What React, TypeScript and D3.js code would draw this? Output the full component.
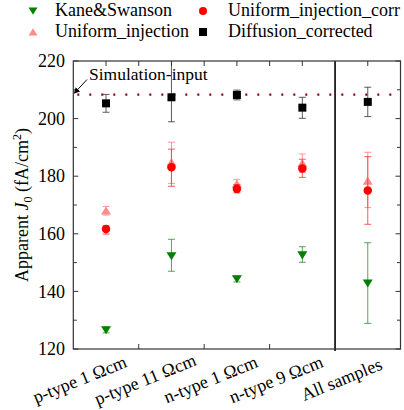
import React from "react";
import * as d3 from "d3";

const categories = ["p-type 1 \u03A9cm", "p-type 11 \u03A9cm", "n-type 1 \u03A9cm", "n-type 9 \u03A9cm", "All samples"];

const kaneValues = [126.6, 152.3, 144.3, 152.6, 142.8];
const kaneLow = [125.6, 147.0, 143.3, 150.1, 128.9];
const kaneHigh = [127.6, 158.1, 145.3, 155.5, 156.9];

const uniformValues = [168.0, 184.8, 177.4, 184.5, 178.4];
const uniformLow = [166.5, 177.5, 175.9, 181.3, 169.1];
const uniformHigh = [169.5, 191.8, 178.9, 187.7, 188.3];

const uniformCorrValues = [161.7, 183.1, 175.6, 182.7, 175.0];
const uniformCorrLow = [159.9, 176.5, 174.2, 179.6, 163.3];
const uniformCorrHigh = [162.8, 189.4, 177.1, 185.9, 186.8];

const diffusionValues = [205.3, 207.4, 208.2, 203.8, 205.8];
const diffusionLow = [202.2, 198.9, 206.5, 200.1, 200.7];
const diffusionHigh = [208.4, 222.0, 209.9, 207.4, 210.9];

const simulationInput = 208.3;
const yTicks = [120, 140, 160, 180, 200, 220];
const yMinorTicks = [130, 150, 170, 190, 210];

const FONT = "Liberation Serif";

type Shape = "down" | "up" | "circle" | "square";

function Marker({ shape, x, y, color, size }: { shape: Shape; x: number; y: number; color: string; size: number }) {
  const h = size / 2;
  if (shape === "circle") return <circle cx={x} cy={y} r={h} fill={color} />;
  if (shape === "square") return <rect x={x - h} y={y - h} width={size} height={size} fill={color} />;
  if (shape === "down")
    return <path d={`M${x - h - 0.5},${y - h * 0.85} L${x + h + 0.5},${y - h * 0.85} L${x},${y + h * 0.95} Z`} fill={color} />;
  return <path d={`M${x - h - 0.5},${y + h * 0.85} L${x + h + 0.5},${y + h * 0.85} L${x},${y - h * 0.95} Z`} fill={color} />;
}

export default function App() {
  const W = 404;
  const H = 410;
  const left = 73.3, right = 400.5, top = 61, bottom = 349;
  const x = d3.scaleLinear().domain([-0.5, 4.5]).range([left, right]);
  const y = d3.scaleLinear().domain([120, 220]).range([bottom, top]);

  const series = [
    { name: "Kane&Swanson", shape: "down" as Shape, color: "#008000", err: "#2e8b2e", vals: kaneValues, lo: kaneLow, hi: kaneHigh, size: 9 },
    { name: "Uniform_injection", shape: "up" as Shape, color: "#ff8c8c", err: "#ff8080", vals: uniformValues, lo: uniformLow, hi: uniformHigh, size: 9 },
    { name: "Uniform_injection_corr", shape: "circle" as Shape, color: "#ff0000", err: "#ff3030", vals: uniformCorrValues, lo: uniformCorrLow, hi: uniformCorrHigh, size: 8.5 },
    { name: "Diffusion_corrected", shape: "square" as Shape, color: "#000000", err: "#333333", vals: diffusionValues, lo: diffusionLow, hi: diffusionHigh, size: 8 },
  ];

  const topTicks = d3.range(0, 9).map((i) => i * 0.5).filter((v) => v !== 3.5);
  const bottomTicks = [0.5, 1.5, 2.5];
  const frame = "#333";
  const ts = { fontFamily: FONT };

  const legend = [
    { s: series[0], lx: 33, ly: 11, tx: 55, ty: 16 },
    { s: series[2], lx: 203, ly: 11, tx: 228, ty: 16 },
    { s: series[1], lx: 33, ly: 32, tx: 55, ty: 37 },
    { s: series[3], lx: 203, ly: 32, tx: 228, ty: 37 },
  ];

  return (
    <svg
      width={W}
      height={H}
      style={{ position: "absolute", left: 0, top: 0, overflow: "hidden", background: "#fff" }}
    >
      <defs>
        <clipPath id="plotclip">
          <rect x={left} y={top} width={right - left} height={bottom - top} />
        </clipPath>
        <marker id="arrowhead" markerWidth="6" markerHeight="6" refX="5" refY="3" orient="auto" markerUnits="userSpaceOnUse">
          <path d="M0,0 L6,3 L0,6 Z" fill="#000" />
        </marker>
      </defs>

      {/* Legend */}
      {legend.map((l, i) => (
        <g key={i}>
          <Marker shape={l.s.shape} x={l.lx} y={l.ly} color={l.s.color} size={8} />
          <text x={l.tx} y={l.ty} fontSize={18} fill="#000" style={ts}>
            {l.s.name}
          </text>
        </g>
      ))}

      {/* simulation input dotted line */}
      <line
        x1={left + 4}
        x2={right}
        y1={y(simulationInput)}
        y2={y(simulationInput)}
        stroke="#8b0000"
        strokeWidth={2.2}
        strokeDasharray="2 10"
      />

      {/* separator */}
      <line x1={x(3.5)} x2={x(3.5)} y1={top} y2={bottom + 2} stroke="#000" strokeWidth={1.6} />

      {/* data */}
      <g clipPath="url(#plotclip)">
        {series.map((s, si) => (
          <g key={si}>
            {s.vals.map((v, i) => {
              const cx = x(i);
              return (
                <g key={i}>
                  <line x1={cx} x2={cx} y1={y(s.lo[i])} y2={y(s.hi[i])} stroke={s.err} strokeWidth={1} strokeOpacity={0.8} />
                  <line x1={cx - 3.5} x2={cx + 3.5} y1={y(s.lo[i])} y2={y(s.lo[i])} stroke={s.err} strokeWidth={1} strokeOpacity={0.8} />
                  <line x1={cx - 3.5} x2={cx + 3.5} y1={y(s.hi[i])} y2={y(s.hi[i])} stroke={s.err} strokeWidth={1} strokeOpacity={0.8} />
                </g>
              );
            })}
            {s.vals.map((v, i) => (
              <Marker key={"m" + i} shape={s.shape} x={x(i)} y={y(v)} color={s.color} size={s.size} />
            ))}
          </g>
        ))}
      </g>

      {/* frame */}
      <rect x={left} y={top} width={right - left} height={bottom - top} fill="none" stroke={frame} strokeWidth={1.2} />

      {/* top ticks */}
      {topTicks.map((t) => (
        <line key={"tt" + t} x1={x(t)} x2={x(t)} y1={top} y2={top + 5} stroke={frame} strokeWidth={1} />
      ))}
      {/* bottom ticks */}
      {bottomTicks.map((t) => (
        <line key={"bt" + t} x1={x(t)} x2={x(t)} y1={bottom} y2={bottom - 5} stroke={frame} strokeWidth={1} />
      ))}

      {/* y ticks left & right */}
      {yTicks.map((t) => (
        <g key={"yt" + t}>
          <line x1={left} x2={left + 5} y1={y(t)} y2={y(t)} stroke={frame} strokeWidth={1} />
          <line x1={right} x2={right - 5} y1={y(t)} y2={y(t)} stroke={frame} strokeWidth={1} />
          <text x={65} y={y(t)} dy="0.34em" textAnchor="end" fontSize={18} fill="#000" style={ts}>
            {t}
          </text>
        </g>
      ))}
      {yMinorTicks.map((t) => (
        <g key={"ym" + t}>
          <line x1={left} x2={left + 3.5} y1={y(t)} y2={y(t)} stroke={frame} strokeWidth={1} />
          <line x1={right} x2={right - 3.5} y1={y(t)} y2={y(t)} stroke={frame} strokeWidth={1} />
        </g>
      ))}

      {/* simulation input label and arrow */}
      <text x={89} y={79.5} fontSize={17.5} fill="#000" style={ts}>
        Simulation-input
      </text>
      <line x1={87} y1={79.5} x2={74.5} y2={93} stroke="#000" strokeWidth={1} markerEnd="url(#arrowhead)" />

      {/* x labels */}
      {categories.map((c, i) => (
        <text
          key={c}
          transform={`translate(${x(i) - 24},${385}) rotate(-22)`}
          textAnchor="middle"
          fontSize={18}
          fill="#000"
          style={ts}
        >
          {c}
        </text>
      ))}

      {/* y label */}
      <text transform={`translate(27.5,${(top + bottom) / 2}) rotate(-90)`} textAnchor="middle" fontSize={18} fill="#000" style={ts}>
        Apparent <tspan fontStyle="italic">J</tspan>
        <tspan fontSize={12} dy={4}>0</tspan>
        <tspan dy={-4}> (fA/cm</tspan>
        <tspan fontSize={12} dy={-7}>2</tspan>
        <tspan dy={7}>)</tspan>
      </text>
    </svg>
  );
}
